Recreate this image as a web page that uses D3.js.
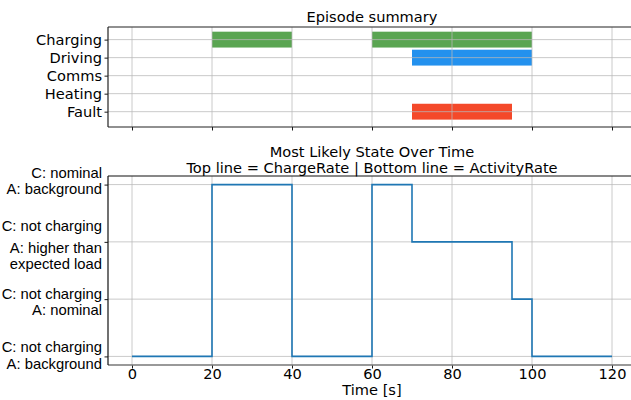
<!DOCTYPE html>
<html>
<head>
<meta charset="utf-8">
<script src="https://cdn.jsdelivr.net/npm/d3@7"></script>
<style>
  html, body { margin: 0; padding: 0; background: #fff; }
  svg { display: block; }
  text { fill: #000; }
</style>
</head>
<body>
<svg id="chart" width="631" height="400"></svg>
<script>
// Episode categories (top panel, top to bottom)
const episodeCategories = ["Charging", "Driving", "Comms", "Heating", "Fault"];
// Episode intervals: row, start s, end s
const episodeStarts = [20, 60, 70, 70];
const episodeEnds = [40, 100, 100, 95];
const episodeRows = ["Charging", "Charging", "Driving", "Fault"];
const episodeColors = { Charging: "#5aa552", Driving: "#2391ee", Comms: "#888888", Heating: "#888888", Fault: "#f4492a" };

// Most likely state over time (step: value holds from t[i] to t[i+1])
const stateTimes = [0, 20, 40, 60, 70, 95, 100, 120];
const stateValues = [0, 3, 0, 3, 2, 1, 0, 0];
const stateLabels = [
  ["C: not charging", "A: background"],
  ["C: not charging", "A: nominal"],
  ["C: not charging", "A: higher than", "expected load"],
  ["C: nominal", "A: background"]
];
const timeTicks = [0, 20, 40, 60, 80, 100, 120];

const svg = d3.select("#chart");
const dejavu = "'DejaVu Sans', sans-serif";
const arial = "'Liberation Sans', Arial, sans-serif";
const gridColor = "#b8b8b8";
const fs = 14.6;

const x = d3.scaleLinear().domain([-6, 126]).range([108, 636]);

// ---------- Top panel: episode summary ----------
const yTop = d3.scaleLinear().domain([-0.7, 4.85]).range([27, 127]);
const topPanel = svg.append("g");

// bars
topPanel.selectAll("rect.ep")
  .data(episodeRows.map((r, i) => ({ row: r, s: episodeStarts[i], e: episodeEnds[i] })))
  .join("rect")
  .attr("x", d => x(d.s))
  .attr("width", d => x(d.e) - x(d.s))
  .attr("y", d => yTop(episodeCategories.indexOf(d.row) - 0.44))
  .attr("height", d => yTop(0.44) - yTop(-0.44))
  .attr("fill", d => episodeColors[d.row]);

// grid
topPanel.append("g").selectAll("line")
  .data(timeTicks).join("line")
  .attr("x1", d => x(d)).attr("x2", d => x(d))
  .attr("y1", yTop(-0.7)).attr("y2", yTop(4.85))
  .attr("stroke", gridColor).attr("stroke-opacity", 0.75).attr("stroke-width", 1);
topPanel.append("g").selectAll("line")
  .data(episodeCategories).join("line")
  .attr("x1", 108).attr("x2", 636)
  .attr("y1", (d, i) => yTop(i)).attr("y2", (d, i) => yTop(i))
  .attr("stroke", gridColor).attr("stroke-opacity", 0.75).attr("stroke-width", 1);

// y axis (category labels)
const yTopAxis = d3.axisLeft(yTop)
  .tickValues(d3.range(episodeCategories.length))
  .tickFormat(i => episodeCategories[i])
  .tickSize(3.5).tickPadding(2.5);
topPanel.append("g").attr("transform", "translate(108,0)").call(yTopAxis)
  .call(g => g.select(".domain").remove())
  .call(g => g.selectAll("text").attr("font-family", dejavu).attr("font-size", fs).attr("fill", "#000"))
  .call(g => g.selectAll("line").attr("stroke", "#000").attr("stroke-width", 0.9));

// x axis ticks (no labels)
const xTopAxis = d3.axisBottom(x).tickValues(timeTicks).tickSize(3.5).tickFormat("");
topPanel.append("g").attr("transform", `translate(0,${yTop(4.85)})`).call(xTopAxis)
  .call(g => g.select(".domain").remove())
  .call(g => g.selectAll("line").attr("stroke", "#000").attr("stroke-width", 0.9));

// spines
topPanel.append("line").attr("x1", 108).attr("x2", 636).attr("y1", yTop(-0.7)).attr("y2", yTop(-0.7)).attr("stroke", "#222").attr("stroke-width", 1.2);
topPanel.append("line").attr("x1", 108).attr("x2", 636).attr("y1", yTop(4.85)).attr("y2", yTop(4.85)).attr("stroke", "#222").attr("stroke-width", 1.2);
topPanel.append("line").attr("x1", 108).attr("x2", 108).attr("y1", yTop(-0.7)).attr("y2", yTop(4.85)).attr("stroke", "#222").attr("stroke-width", 1.2);

topPanel.append("text").attr("x", 372).attr("y", 22).attr("text-anchor", "middle")
  .attr("font-family", dejavu).attr("font-size", fs).text("Episode summary");

// ---------- Bottom panel: most likely state ----------
const yBot = d3.scaleLinear().domain([-0.15, 3.15]).range([365, 176]);
const botPanel = svg.append("g");

botPanel.append("g").selectAll("line")
  .data(timeTicks).join("line")
  .attr("x1", d => x(d)).attr("x2", d => x(d))
  .attr("y1", yBot(-0.15)).attr("y2", yBot(3.15))
  .attr("stroke", gridColor).attr("stroke-opacity", 0.75).attr("stroke-width", 1);
botPanel.append("g").selectAll("line")
  .data(d3.range(stateLabels.length)).join("line")
  .attr("x1", 108).attr("x2", 636)
  .attr("y1", d => yBot(d)).attr("y2", d => yBot(d))
  .attr("stroke", gridColor).attr("stroke-opacity", 0.75).attr("stroke-width", 1);

// step line
const stepLine = d3.line()
  .x(d => x(d.t)).y(d => yBot(d.v))
  .curve(d3.curveStepAfter);
botPanel.append("path")
  .datum(stateTimes.map((t, i) => ({ t, v: stateValues[i] })))
  .attr("d", stepLine)
  .attr("fill", "none").attr("stroke", "#1f77b4").attr("stroke-width", 1.6);

// y axis with multi-line state labels
const yBotAxis = d3.axisLeft(yBot).tickValues(d3.range(stateLabels.length)).tickSize(3.5).tickFormat("");
botPanel.append("g").attr("transform", "translate(108,0)").call(yBotAxis)
  .call(g => g.select(".domain").remove())
  .call(g => g.selectAll("line").attr("stroke", "#000").attr("stroke-width", 0.9));

// line offsets (px from tick) for each label block
const labelLineOffsets = [[-9.5, 7.5], [-5.5, 11], [-16, 6, 21.5], [-11.5, 4.5]];
stateLabels.forEach((lines, i) => {
  const t = botPanel.append("text")
    .attr("text-anchor", "end")
    .attr("font-family", arial).attr("font-size", 14.8);
  lines.forEach((ln, j) => {
    t.append("tspan").attr("x", 102)
      .attr("y", yBot(i) + labelLineOffsets[i][j])
      .attr("dy", "0.35em").text(ln);
  });
});

// x axis
const xBotAxis = d3.axisBottom(x).tickValues(timeTicks).tickSize(3.5).tickPadding(0);
botPanel.append("g").attr("transform", `translate(0,${yBot(-0.15)})`).call(xBotAxis)
  .call(g => g.select(".domain").remove())
  .call(g => g.selectAll("text").attr("font-family", dejavu).attr("font-size", fs).attr("fill", "#000"))
  .call(g => g.selectAll("line").attr("stroke", "#000").attr("stroke-width", 0.9));

// spines
botPanel.append("line").attr("x1", 108).attr("x2", 636).attr("y1", yBot(3.15)).attr("y2", yBot(3.15)).attr("stroke", "#111").attr("stroke-width", 1.2);
botPanel.append("line").attr("x1", 108).attr("x2", 636).attr("y1", yBot(-0.15)).attr("y2", yBot(-0.15)).attr("stroke", "#777").attr("stroke-width", 1.6);
botPanel.append("line").attr("x1", 108).attr("x2", 108).attr("y1", yBot(3.15)).attr("y2", yBot(-0.15)).attr("stroke", "#111").attr("stroke-width", 1.2);

botPanel.append("text").attr("x", 372).attr("y", 395).attr("text-anchor", "middle")
  .attr("font-family", dejavu).attr("font-size", fs).text("Time [s]");

const title = botPanel.append("text").attr("text-anchor", "middle")
  .attr("font-family", dejavu).attr("font-size", fs);
title.append("tspan").attr("x", 372).attr("y", 157).text("Most Likely State Over Time");
title.append("tspan").attr("x", 372).attr("y", 173).text("Top line = ChargeRate | Bottom line = ActivityRate");
</script>
</body>
</html>
